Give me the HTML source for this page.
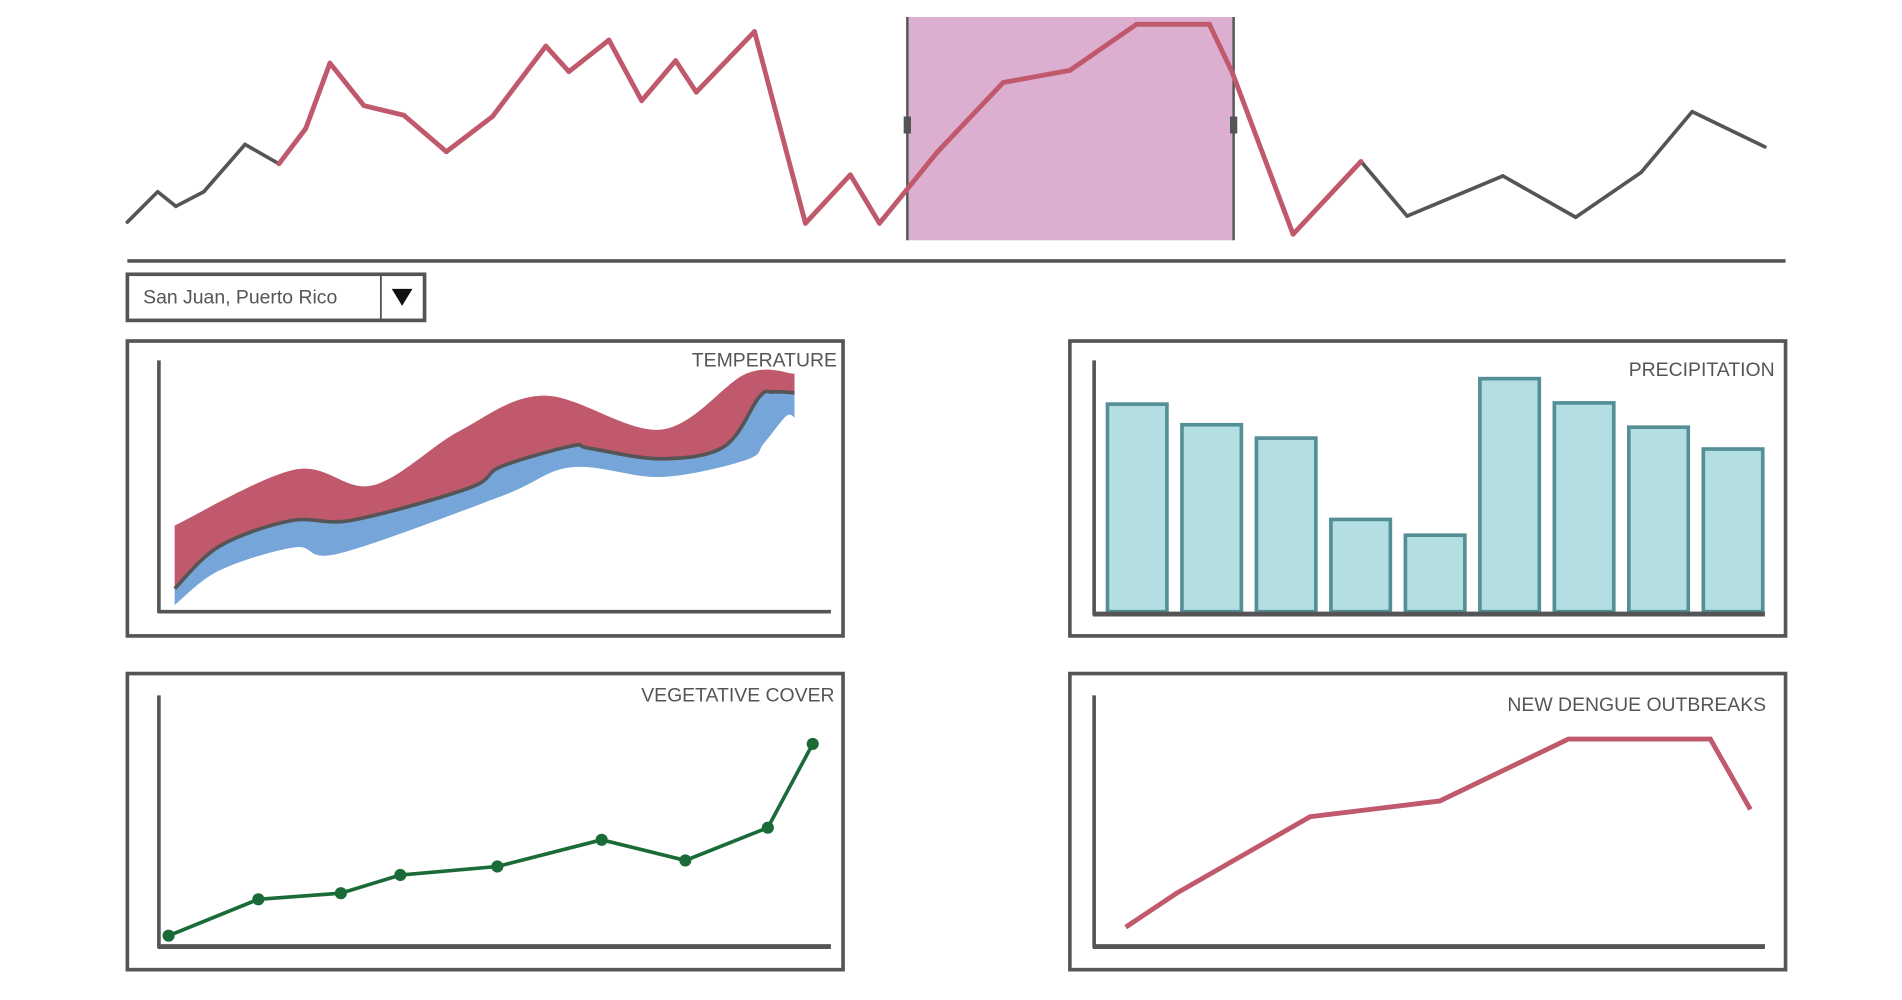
<!DOCTYPE html>
<html><head><meta charset="utf-8"><style>
html,body{margin:0;padding:0;background:#fff;}
svg{display:block;}
text{font-family:"Liberation Sans Narrow","Liberation Sans",sans-serif;fill:#555;}
</style></head><body>
<svg id="chart" width="1902" height="1000" viewBox="0 0 1568 824" preserveAspectRatio="none" xmlns="http://www.w3.org/2000/svg">
<g id="overview"></g>
<rect x="748" y="14" width="269" height="184" fill="#dcafd0"/>
<line x1="748" y1="14" x2="748" y2="198" stroke="#555" stroke-width="2"/>
<line x1="1017" y1="14" x2="1017" y2="198" stroke="#555" stroke-width="2"/>
<rect x="745" y="96" width="6" height="14" fill="#555"/>
<rect x="1014" y="96" width="6" height="14" fill="#555"/>
<g id="overviewTop"></g>
<line x1="105" y1="215" x2="1472" y2="215" stroke="#555" stroke-width="3"/>

<g>
<rect x="105" y="226" width="245" height="38" fill="#fff" stroke="#555" stroke-width="3"/>
<line x1="314" y1="227" x2="314" y2="263" stroke="#555" stroke-width="1.5"/>
<text x="118" y="250" font-size="16">San Juan, Puerto Rico</text>
<polygon points="323,238 340,238 331.5,252" fill="#111"/>
</g>

<g>
<rect x="105" y="281" width="590" height="243" fill="#fff" stroke="#555" stroke-width="3"/>
<g id="temp"></g>
<line x1="131" y1="297" x2="131" y2="505" stroke="#555" stroke-width="3"/>
<line x1="130" y1="504" x2="685" y2="504" stroke="#555" stroke-width="3"/>
<text x="690" y="302" font-size="16" text-anchor="end">TEMPERATURE</text>
</g>

<g>
<rect x="882" y="281" width="590" height="243" fill="#fff" stroke="#555" stroke-width="3"/>
<g id="precip"></g>
<line x1="902" y1="297" x2="902" y2="507" stroke="#555" stroke-width="3"/>
<line x1="901" y1="506" x2="1455" y2="506" stroke="#555" stroke-width="4"/>
<text x="1463" y="310" font-size="16" text-anchor="end">PRECIPITATION</text>
</g>

<g>
<rect x="105" y="555" width="590" height="244" fill="#fff" stroke="#555" stroke-width="3"/>
<line x1="131" y1="573" x2="131" y2="781" stroke="#555" stroke-width="3"/>
<line x1="130" y1="780" x2="685" y2="780" stroke="#555" stroke-width="4"/>
<g id="veg"></g>
<text x="688" y="578" font-size="16" text-anchor="end">VEGETATIVE COVER</text>
</g>

<g>
<rect x="882" y="555" width="590" height="244" fill="#fff" stroke="#555" stroke-width="3"/>
<line x1="902" y1="573" x2="902" y2="781" stroke="#555" stroke-width="3"/>
<line x1="901" y1="780" x2="1455" y2="780" stroke="#555" stroke-width="4"/>
<g id="dengue"></g>
<text x="1456" y="586" font-size="16" text-anchor="end">NEW DENGUE OUTBREAKS</text>
</g>
</svg>
<script>
// Overview (weekly cases) data
const overviewWeeks = [0,25,40,63,97,125,147,167,195,228,263,301,345,364,397,424,452,469,517,559,596,620,668,722,777,832,892,911,961,1017,1055,1134,1194,1248,1290,1350];
const overviewValues = [17,42,30,42,81,65,94,148,113,105,75,104,162,141,167,117,150,124,174,16,56,16,75,132,142,180,180,140,7,67,22,55,21,58,108,79];
const highlightStart = 5, highlightEnd = 29;
// Temperature: each edge has its own sample days and values
const tempHighDays = [0,99,163,235,305,401,471,511];
const tempHigh = [67,113,100,145,174,146,192,192];
const tempMeanDays = [0,37,96,147,243,269,327,342,401,453,482,493,511];
const tempMean = [15,50,71,71.5,98,115.5,132.5,130.6,122,132,173,177,176.4];
const tempLowDays = [0,37,99,136,269,327,401,471,486,504,511];
const tempLow = [1.5,30,49,44,91,115,107,121,135,157,156];
// Precipitation
const precipCats = ["m1","m2","m3","m4","m5","m6","m7","m8","m9"];
const precipValues = [171,154,143,76,63,192,172,152,134];
// Vegetation
const vegX = [0,74,142,191,271,357,426,494,531];
const vegValues = [9,39,44,59,66,88,71,98,167];
// Dengue
const dengueX = [0,42,152,259,365,482,515];
const dengueValues = [16,44,107,120,171,171,113];

const NS="http://www.w3.org/2000/svg";
function mk(tag,attrs,parent){const e=document.createElementNS(NS,tag);for(const k in attrs)e.setAttribute(k,attrs[k]);parent.appendChild(e);return e;}
function curve(pts){let d="";for(let i=0;i<pts.length-1;i++){const p0=pts[i-1]||pts[i],p1=pts[i],p2=pts[i+1],p3=pts[i+2]||p2;const t=1/6;d+=" C"+(p1[0]+(p2[0]-p0[0])*t)+","+(p1[1]+(p2[1]-p0[1])*t)+" "+(p2[0]-(p3[0]-p1[0])*t)+","+(p2[1]-(p3[1]-p1[1])*t)+" "+p2[0]+","+p2[1];}return d;}
function smooth(pts){return "M"+pts[0][0]+","+pts[0][1]+curve(pts);}
function band(top,bot){const b=bot.slice().reverse();return smooth(top)+" L"+b[0][0]+","+b[0][1]+curve(b)+" Z";}

// overview
const ox=v=>105+v, oy=v=>200-v;
const og=document.getElementById('overview'), ogt=document.getElementById('overviewTop');
for(let i=0;i<overviewWeeks.length-1;i++){
  const red=i>=highlightStart&&i<highlightEnd;
  const l=mk('line',{x1:ox(overviewWeeks[i]),y1:oy(overviewValues[i]),x2:ox(overviewWeeks[i+1]),y2:oy(overviewValues[i+1]),stroke:red?'#c0596b':'#555','stroke-width':red?4:3,'stroke-linecap':'round'},red?ogt:og);
  
  
}
// temperature
const tx=d=>144+d, ty=v=>500-v;
const tg=document.getElementById('temp');
const hiP=tempHighDays.map((d,i)=>[tx(d),ty(tempHigh[i])]);
const meP=tempMeanDays.map((d,i)=>[tx(d),ty(tempMean[i])]);
const loP=tempLowDays.map((d,i)=>[tx(d),ty(tempLow[i])]);
const blue=mk('path',{d:band(meP,loP),fill:'#75a5d9'},tg);


const redb=mk('path',{d:band(hiP,meP),fill:'#c0596b'},tg);


const ml=mk('path',{d:smooth(meP),fill:'none',stroke:'#555','stroke-width':3},tg);


// precipitation
const pg=document.getElementById('precip');
const py=v=>504-v;
precipCats.forEach((c,i)=>{
  const r=mk('rect',{x:913+i*61.4,y:py(precipValues[i]),width:49,height:504-py(precipValues[i]),fill:'#b3dfe3',stroke:'#558f96','stroke-width':3},pg);
  
  
});
// vegetation
const vg=document.getElementById('veg');
const vx=v=>139+v, vy=v=>780-v;
const vl=mk('polyline',{points:vegX.map((x,i)=>vx(x)+","+vy(vegValues[i])).join(" "),fill:'none',stroke:'#1a6b37','stroke-width':3},vg);


vegX.forEach((x,i)=>{
  const c=mk('circle',{cx:vx(x),cy:vy(vegValues[i]),r:5,fill:'#1a6b37'},vg);
  
  
});
// dengue
const dg=document.getElementById('dengue');
const dx=v=>928+v, dy=v=>780-v;
const dl=mk('polyline',{points:dengueX.map((x,i)=>dx(x)+","+dy(dengueValues[i])).join(" "),fill:'none',stroke:'#c0596b','stroke-width':4},dg);


</script>
</body></html>
